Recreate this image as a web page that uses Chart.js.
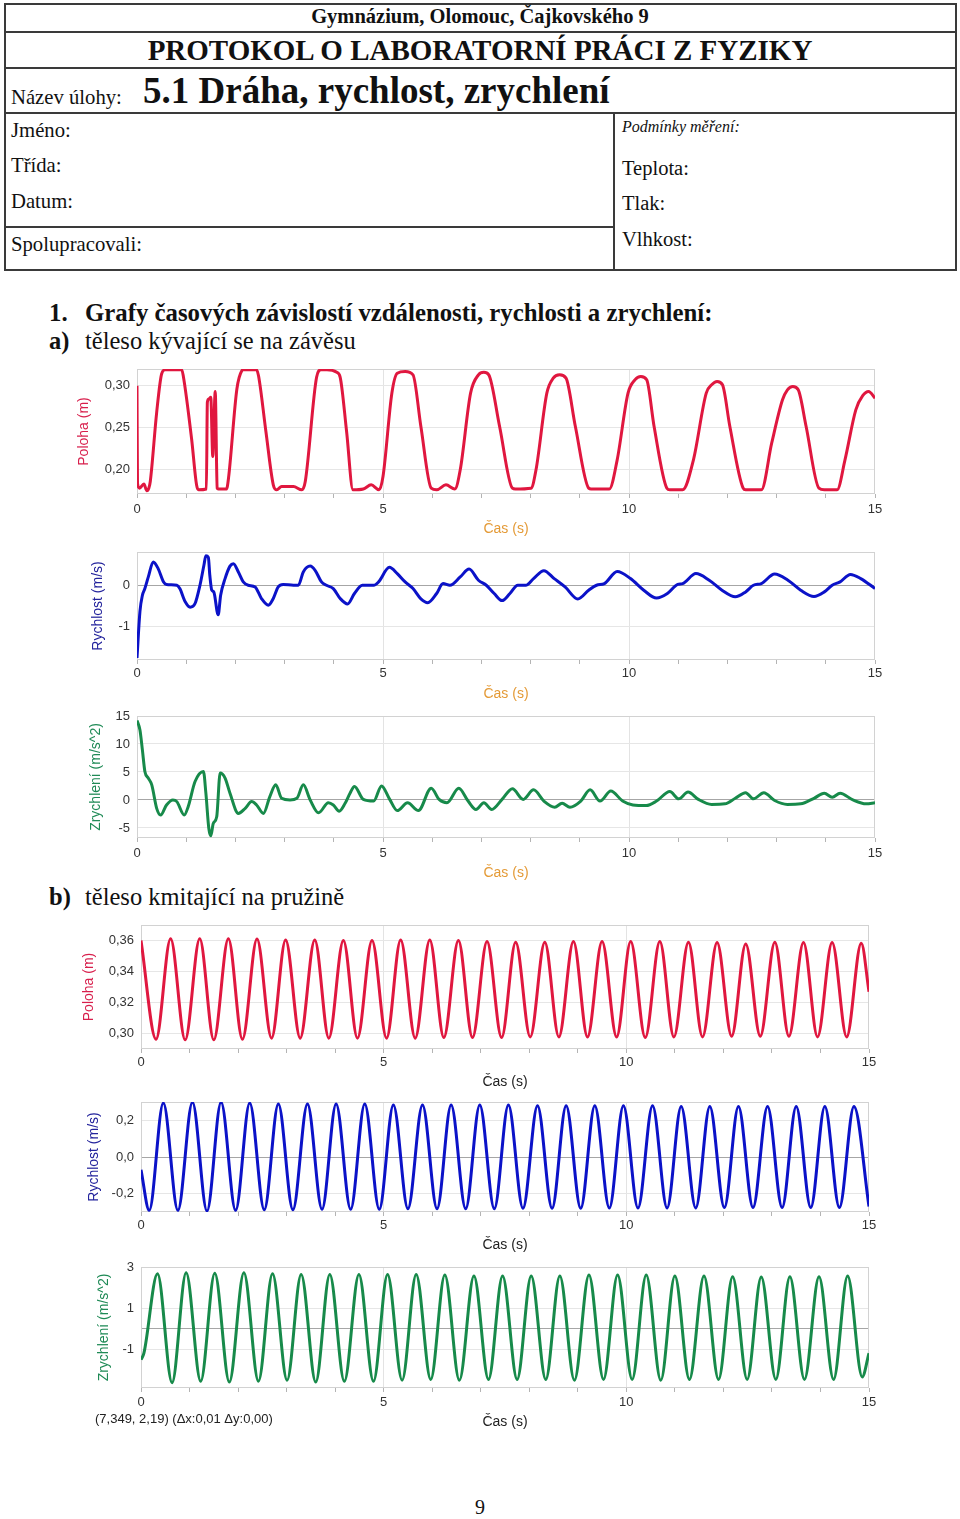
<!DOCTYPE html>
<html lang="cs">
<head>
<meta charset="utf-8">
<title>Protokol – 5.1 Dráha, rychlost, zrychlení</title>
<script src="https://cdn.jsdelivr.net/npm/chart.js@4.4.1/dist/chart.umd.min.js"></script>
<style>
  html, body { margin: 0; padding: 0; background: #fff; }
  #page { position: relative; width: 960px; height: 1519px; overflow: hidden; }
  .t { position: absolute; white-space: nowrap; line-height: 1; color: #111;
       font-family: 'Liberation Serif', 'Times New Roman', serif; }
  .b { font-weight: bold; }
  .c { text-align: center; }
  .ln { position: absolute; background: #3a3a3a; }
  canvas { position: absolute; }
</style>
</head>
<body>
<div id="page">
  <!-- hlavicka protokolu -->
  <div class="ln" style="left:4px;top:3px;width:952px;height:2px"></div>
  <div class="ln" style="left:4px;top:31px;width:952px;height:2px"></div>
  <div class="ln" style="left:4px;top:67px;width:952px;height:2px"></div>
  <div class="ln" style="left:4px;top:112px;width:952px;height:2px"></div>
  <div class="ln" style="left:4px;top:269px;width:952px;height:2px"></div>
  <div class="ln" style="left:4px;top:3px;width:2px;height:268px"></div>
  <div class="ln" style="left:955px;top:3px;width:2px;height:268px"></div>
  <div class="ln" style="left:613px;top:112px;width:2px;height:158px"></div>
  <div class="ln" style="left:4px;top:226px;width:610px;height:2px"></div>

  <div class="t b c" style="left:4px;width:952px;top:6px;font-size:20.5px">Gymnázium, Olomouc, Čajkovského 9</div>
  <div class="t b c" style="left:4px;width:952px;top:36px;font-size:29px">PROTOKOL O LABORATORNÍ PRÁCI Z FYZIKY</div>
  <div class="t" style="left:11px;top:87px;font-size:20.7px">Název úlohy:</div>
  <div class="t b" style="left:143px;top:72px;font-size:37px">5.1 Dráha, rychlost, zrychlení</div>
  <div class="t" style="left:11px;top:120px;font-size:20.7px">Jméno:</div>
  <div class="t" style="left:11px;top:155px;font-size:20.7px">Třída:</div>
  <div class="t" style="left:11px;top:191px;font-size:20.7px">Datum:</div>
  <div class="t" style="left:11px;top:234px;font-size:20.7px">Spolupracovali:</div>
  <div class="t" style="left:622px;top:119px;font-size:16px;font-style:italic">Podmínky měření:</div>
  <div class="t" style="left:622px;top:158px;font-size:20.5px">Teplota:</div>
  <div class="t" style="left:622px;top:193px;font-size:20.5px">Tlak:</div>
  <div class="t" style="left:622px;top:229px;font-size:20.5px">Vlhkost:</div>

  <div class="t b" style="left:49px;top:301px;font-size:24.8px">1.</div>
  <div class="t b" style="left:85px;top:301px;font-size:24.8px">Grafy časových závislostí vzdálenosti, rychlosti a zrychlení:</div>
  <div class="t b" style="left:49px;top:329px;font-size:24.5px">a)</div>
  <div class="t" style="left:85px;top:329px;font-size:24.5px">těleso kývající se na závěsu</div>
  <div class="t b" style="left:49px;top:885px;font-size:24.5px">b)</div>
  <div class="t" style="left:85px;top:885px;font-size:24.5px">těleso kmitající na pružině</div>

  <canvas id="c1"></canvas>
  <canvas id="c2"></canvas>
  <canvas id="c3"></canvas>
  <canvas id="c4"></canvas>
  <canvas id="c5"></canvas>
  <canvas id="c6"></canvas>

  <div class="t" style="left:95px;top:1412px;font-size:13px;color:#222;font-family:'Liberation Sans',Arial,sans-serif">(7,349, 2,19) (Δx:0,01 Δy:0,00)</div>
  <div class="t c" style="left:440px;width:80px;top:1497px;font-size:20px">9</div>
</div>

<script>
// osa x - cas (s)
const xTicks = [0, 1, 2, 3, 4, 5, 6, 7, 8, 9, 10, 11, 12, 13, 14, 15];
const xMajor = [0, 5, 10, 15];

// a) kyvadlo - poloha (m)
const pendPosT = [0, 0.01, 0.05, 0.14, 0.20, 0.24, 0.27, 0.40, 0.50, 0.57,
  0.91, 0.94, 1.11, 1.21, 1.25, 1.41, 1.43, 1.46, 1.50, 1.54,
  1.59, 1.63, 1.65, 1.82, 1.86, 2.03, 2.13, 2.16, 2.43, 2.47,
  2.62, 2.77, 2.84, 2.94, 3.18, 3.35, 3.42, 3.65, 3.74, 3.86,
  4.06, 4.13, 4.26, 4.39, 4.60, 4.76, 4.92, 5.00, 5.18, 5.29,
  5.45, 5.61, 5.77, 5.98, 6.09, 6.28, 6.46, 6.57, 6.78, 6.94,
  7.05, 7.15, 7.37, 7.63, 7.69, 8.01, 8.11, 8.33, 8.46, 8.59,
  8.72, 8.91, 9.18, 9.23, 9.60, 9.76, 9.98, 10.12, 10.24, 10.36,
  10.51, 10.77, 10.83, 11.09, 11.31, 11.57, 11.68, 11.79, 11.90, 12.05,
  12.32, 12.37, 12.69, 12.90, 13.12, 13.22, 13.33, 13.44, 13.60, 13.86,
  13.97, 14.23, 14.39, 14.61, 14.75, 14.87, 15.00];
const pendPosY = [0.300, 0.183, 0.177, 0.182, 0.174, 0.177, 0.185, 0.268, 0.314, 0.319,
  0.319, 0.312, 0.236, 0.181, 0.175, 0.176, 0.280, 0.284, 0.286, 0.215,
  0.293, 0.177, 0.176, 0.176, 0.189, 0.296, 0.318, 0.319, 0.319, 0.312,
  0.245, 0.181, 0.175, 0.179, 0.179, 0.175, 0.185, 0.310, 0.319, 0.319,
  0.316, 0.310, 0.245, 0.175, 0.176, 0.181, 0.175, 0.191, 0.291, 0.315,
  0.317, 0.313, 0.251, 0.177, 0.175, 0.181, 0.176, 0.199, 0.291, 0.313,
  0.316, 0.313, 0.251, 0.177, 0.176, 0.177, 0.199, 0.291, 0.309, 0.313,
  0.309, 0.251, 0.177, 0.176, 0.176, 0.211, 0.291, 0.307, 0.311, 0.307,
  0.251, 0.177, 0.175, 0.175, 0.211, 0.291, 0.301, 0.305, 0.301, 0.251,
  0.177, 0.175, 0.175, 0.231, 0.283, 0.295, 0.299, 0.295, 0.251, 0.177,
  0.175, 0.175, 0.211, 0.271, 0.288, 0.293, 0.285];

// a) kyvadlo - rychlost (m/s)
const pendVelT = [0.00, 0.06, 0.11, 0.16, 0.23, 0.33, 0.43, 0.54, 0.60, 0.81,
  0.87, 0.98, 1.08, 1.18, 1.28, 1.36, 1.40, 1.45, 1.48, 1.52,
  1.56, 1.65, 1.70, 1.79, 1.89, 1.96, 2.06, 2.16, 2.26, 2.40,
  2.53, 2.67, 2.77, 2.87, 2.97, 3.18, 3.28, 3.38, 3.52, 3.62,
  3.75, 3.85, 3.99, 4.13, 4.28, 4.42, 4.58, 4.81, 4.91, 5.13,
  5.29, 5.45, 5.61, 5.77, 5.91, 6.09, 6.22, 6.36, 6.57, 6.75,
  6.94, 7.10, 7.26, 7.42, 7.58, 7.74, 7.90, 8.06, 8.27, 8.48,
  8.70, 8.96, 9.18, 9.34, 9.50, 9.76, 10.03, 10.30, 10.56, 10.78,
  10.99, 11.09, 11.36, 11.63, 11.89, 12.16, 12.37, 12.53, 12.69, 12.96,
  13.23, 13.49, 13.76, 13.97, 14.13, 14.29, 14.50, 14.71, 15.00];
const pendVelY = [-1.75, -0.63, -0.24, -0.08, 0.20, 0.56, 0.40, 0.08, 0.02, 0.00,
  -0.08, -0.40, -0.53, -0.44, 0.00, 0.48, 0.71, 0.67, 0.24, -0.12,
  -0.16, -0.71, -0.24, 0.16, 0.46, 0.52, 0.32, 0.08, 0.00, -0.04,
  -0.32, -0.48, -0.32, -0.04, 0.02, 0.00, 0.00, 0.32, 0.46, 0.36,
  0.08, 0.00, -0.08, -0.32, -0.45, -0.20, 0.00, 0.00, 0.08, 0.43,
  0.28, 0.08, -0.08, -0.33, -0.42, -0.20, 0.04, 0.00, 0.20, 0.39,
  0.12, 0.00, -0.20, -0.37, -0.20, 0.00, 0.00, 0.16, 0.35, 0.16,
  -0.04, -0.33, -0.12, 0.00, 0.04, 0.33, 0.16, -0.12, -0.31, -0.20,
  0.02, 0.04, 0.28, 0.12, -0.12, -0.28, -0.16, 0.00, 0.04, 0.27,
  0.12, -0.12, -0.27, -0.16, 0.00, 0.08, 0.26, 0.16, -0.08];

// a) kyvadlo - zrychleni (m/s^2)
const pendAccT = [0.00, 0.06, 0.11, 0.16, 0.23, 0.30, 0.40, 0.48, 0.60, 0.73,
  0.81, 0.96, 1.04, 1.18, 1.35, 1.40, 1.46, 1.50, 1.55, 1.62,
  1.69, 1.79, 1.89, 2.06, 2.20, 2.33, 2.43, 2.57, 2.70, 2.82,
  2.94, 3.11, 3.25, 3.38, 3.52, 3.69, 3.89, 3.99, 4.11, 4.23,
  4.33, 4.42, 4.60, 4.81, 4.97, 5.13, 5.29, 5.50, 5.72, 5.98,
  6.14, 6.30, 6.54, 6.73, 6.89, 7.05, 7.21, 7.42, 7.63, 7.85,
  8.06, 8.27, 8.49, 8.64, 8.80, 9.02, 9.21, 9.41, 9.63, 9.87,
  10.08, 10.35, 10.56, 10.83, 11.01, 11.20, 11.41, 11.68, 11.95, 12.16,
  12.37, 12.53, 12.74, 12.96, 13.22, 13.49, 13.76, 13.97, 14.13, 14.29,
  14.55, 14.82, 15.00];
const pendAccY = [14.2, 12.5, 8.9, 5.1, 3.9, 2.7, -1.5, -2.7, -0.9, 0.0,
  -0.3, -2.7, -1.2, 3.3, 5.1, 1.2, -5.1, -6.4, -4.2, -3.0,
  4.8, 3.9, 1.2, -2.4, -1.5, -0.3, -0.9, -2.4, 0.6, 2.7,
  0.3, 0.0, 0.3, 2.7, 0.0, -2.3, -0.5, -0.9, -2.0, -0.6,
  1.2, 2.4, 0.1, -0.2, 2.5, 0.2, -1.9, -0.5, -1.9, 2.1,
  0.1, -0.5, 2.1, -0.2, -1.7, -0.5, -1.7, 0.1, 2.0, 0.1,
  1.8, -0.2, -1.3, -0.6, -1.3, -0.2, 1.8, -0.2, 1.6, -0.2,
  -0.9, -1.0, -0.2, 1.5, 0.2, 1.4, 0.1, -0.8, -0.7, 0.3,
  1.3, 0.2, 1.3, -0.1, -0.8, -0.7, 0.3, 1.2, 0.5, 1.2,
  0.0, -0.7, -0.5];

// b) pruzina - poloha (m)
const springPosT = [0.00, 0.31, 0.61, 0.91, 1.21, 1.50, 1.80, 2.09, 2.39, 2.69,
  2.98, 3.28, 3.58, 3.87, 4.17, 4.46, 4.76, 5.06, 5.35, 5.65,
  5.95, 6.24, 6.54, 6.83, 7.13, 7.43, 7.72, 8.02, 8.32, 8.61,
  8.91, 9.20, 9.50, 9.80, 10.09, 10.39, 10.69, 10.98, 11.28, 11.57,
  11.87, 12.17, 12.46, 12.76, 13.06, 13.35, 13.65, 13.94, 14.24, 14.54,
  14.84, 15.00];
const springPosY = [0.3600, 0.2963, 0.3611, 0.2959, 0.3611, 0.2959, 0.3611, 0.2963, 0.3609, 0.2970,
  0.3604, 0.2970, 0.3604, 0.2970, 0.3600, 0.2970, 0.3600, 0.2970, 0.3604, 0.2970,
  0.3604, 0.2974, 0.3600, 0.2974, 0.3593, 0.2974, 0.3589, 0.2978, 0.3589, 0.2978,
  0.3593, 0.2978, 0.3593, 0.2978, 0.3593, 0.2974, 0.3593, 0.2978, 0.3589, 0.2978,
  0.3587, 0.2983, 0.3578, 0.2983, 0.3589, 0.2983, 0.3587, 0.2978, 0.3587, 0.2978,
  0.3583, 0.3270];

// b) pruzina - rychlost (m/s)
const springVelT = [0.00, 0.17, 0.46, 0.76, 1.06, 1.36, 1.65, 1.95, 2.24, 2.54,
  2.83, 3.13, 3.43, 3.73, 4.02, 4.32, 4.61, 4.91, 5.20, 5.50,
  5.80, 6.10, 6.39, 6.69, 6.98, 7.28, 7.57, 7.87, 8.17, 8.47,
  8.76, 9.06, 9.35, 9.65, 9.94, 10.24, 10.54, 10.84, 11.13, 11.43,
  11.72, 12.02, 12.31, 12.61, 12.91, 13.21, 13.50, 13.80, 14.09, 14.39,
  14.69, 15.00];
const springVelY = [-0.070, -0.291, 0.295, -0.291, 0.299, -0.295, 0.299, -0.291, 0.295, -0.288,
  0.289, -0.288, 0.289, -0.285, 0.289, -0.285, 0.289, -0.285, 0.284, -0.282,
  0.284, -0.282, 0.284, -0.282, 0.284, -0.282, 0.284, -0.280, 0.280, -0.280,
  0.280, -0.280, 0.280, -0.278, 0.280, -0.278, 0.280, -0.278, 0.276, -0.278,
  0.276, -0.276, 0.276, -0.276, 0.276, -0.276, 0.276, -0.276, 0.276, -0.276,
  0.276, -0.270];

// b) pruzina - zrychleni (m/s^2)
const springAccT = [0.00, 0.06, 0.34, 0.64, 0.93, 1.23, 1.52, 1.82, 2.12, 2.42,
  2.71, 3.01, 3.30, 3.60, 3.89, 4.19, 4.49, 4.79, 5.08, 5.38,
  5.67, 5.97, 6.26, 6.56, 6.86, 7.16, 7.45, 7.75, 8.04, 8.34,
  8.63, 8.93, 9.23, 9.53, 9.82, 10.12, 10.41, 10.71, 11.00, 11.30,
  11.60, 11.90, 12.19, 12.49, 12.78, 13.08, 13.37, 13.67, 13.97, 14.27,
  14.56, 14.86, 15.00];
const springAccY = [-1.52, -1.20, 2.67, -2.64, 2.72, -2.57, 2.69, -2.61, 2.72, -2.57,
  2.67, -2.52, 2.64, -2.61, 2.64, -2.57, 2.64, -2.57, 2.64, -2.52,
  2.64, -2.48, 2.61, -2.52, 2.56, -2.48, 2.56, -2.48, 2.56, -2.48,
  2.56, -2.52, 2.61, -2.48, 2.61, -2.48, 2.61, -2.52, 2.56, -2.48,
  2.56, -2.48, 2.52, -2.48, 2.51, -2.48, 2.52, -2.48, 2.52, -2.48,
  2.56, -2.36, -1.20];

// popisky osy y
const yTicks1 = [0.20, 0.25, 0.30],  yLabels1 = ['0,20', '0,25', '0,30'];
const yTicks2 = [-1, 0],             yLabels2 = ['-1', '0'];
const yTicks3 = [-5, 0, 5, 10, 15],  yLabels3 = ['-5', '0', '5', '10', '15'];
const yTicks4 = [0.30, 0.32, 0.34, 0.36], yLabels4 = ['0,30', '0,32', '0,34', '0,36'];
const yTicks5 = [-0.2, 0, 0.2],      yLabels5 = ['-0,2', '0,0', '0,2'];
const yTicks6 = [-1, 0, 1, 3],       yLabels6 = ['-1', '', '1', '3'];

const SANS = "'Liberation Sans', Arial, sans-serif";
const RED = '#e0173f', BLUE = '#0b12c8', GREEN = '#178a4a';
const ORANGE = '#e49a36';

// ramecek kolem plochy grafu
const frame = {
  id: 'frame',
  beforeDatasetsDraw(chart) {
    const a = chart.chartArea, c = chart.ctx;
    c.save();
    c.strokeStyle = '#d2d2d2';
    c.lineWidth = 1;
    c.strokeRect(Math.round(a.left) + 0.5, Math.round(a.top) + 0.5,
                 Math.round(a.width) - 1, Math.round(a.height) - 1);
    c.restore();
  }
};

function makeChart(id, t, v, o) {
  const [pl, pt, pr, pb] = o.plot;
  const left = 60, top = pt - 10, right = pr + 20, bottom = o.titleY + 12;
  const cv = document.getElementById(id);
  cv.width = right - left;
  cv.height = bottom - top;
  cv.style.left = left + 'px';
  cv.style.top = top + 'px';

  new Chart(cv, {
    type: 'line',
    data: {
      datasets: [{
        data: t.map((x, i) => ({ x: x, y: v[i] })),
        borderColor: o.color,
        borderWidth: 3,
        pointRadius: 0,
        fill: false,
        cubicInterpolationMode: 'monotone'
      }]
    },
    options: {
      responsive: false,
      animation: false,
      events: [],
      layout: { padding: { top: 10, right: 20, left: 0, bottom: 0 } },
      plugins: { legend: { display: false }, tooltip: { enabled: false } },
      scales: {
        x: {
          type: 'linear', min: 0, max: 15,
          afterBuildTicks: s => { s.ticks = xTicks.map(x => ({ value: x })); },
          afterFit: s => { s.height = bottom - pb; s.paddingLeft = 0; s.paddingRight = 0; },
          border: { display: false },
          grid: {
            color: c => (c.tick && (c.tick.value === 5 || c.tick.value === 10)) ? '#e3e3e3' : 'rgba(0,0,0,0)',
            tickColor: '#b4b4b4',
            tickLength: 4
          },
          ticks: {
            autoSkip: false, maxRotation: 0, padding: o.xPad,
            color: '#333', font: { family: SANS, size: 13 },
            callback: x => xMajor.includes(x) ? String(x) : ''
          },
          title: {
            display: true, text: 'Čas (s)', color: o.xTitleColor,
            font: { family: SANS, size: 14 }, padding: { top: 0, bottom: 2 }
          }
        },
        y: {
          type: 'linear', min: o.yMin, max: o.yMax,
          afterBuildTicks: s => { s.ticks = o.yTicks.map(y => ({ value: y })); },
          afterFit: s => { s.width = pl - left; s.paddingTop = 0; s.paddingBottom = 0; },
          border: { display: false },
          grid: {
            drawTicks: false,
            color: c => (c.tick && c.tick.value === 0) ? '#a6a6a6' : '#e6e6e6'
          },
          ticks: {
            padding: 7, color: '#333', font: { family: SANS, size: 13 },
            callback: (y, i) => o.yLabels[i]
          },
          title: {
            display: true, text: o.yTitle, color: o.yTitleColor,
            font: { family: SANS, size: 14 },
            padding: { top: o.yTitleX - left - 8.4, bottom: 0 }
          }
        }
      }
    },
    plugins: [frame]
  });
}

makeChart('c1', pendPosT, pendPosY, {
  plot: [137, 369, 875, 494], yMin: 0.17, yMax: 0.32, yTicks: yTicks1, yLabels: yLabels1,
  color: RED, yTitle: 'Poloha (m)', yTitleColor: '#d81f4c', yTitleX: 84,
  titleY: 528, xPad: 3.2, xTitleColor: ORANGE
});
makeChart('c2', pendVelT, pendVelY, {
  plot: [137, 552, 875, 660], yMin: -1.8, yMax: 0.8, yTicks: yTicks2, yLabels: yLabels2,
  color: BLUE, yTitle: 'Rychlost (m/s)', yTitleColor: '#23239c', yTitleX: 98,
  titleY: 693, xPad: 1.2, xTitleColor: ORANGE
});
makeChart('c3', pendAccT, pendAccY, {
  plot: [137, 716, 875, 838], yMin: -6.8, yMax: 15, yTicks: yTicks3, yLabels: yLabels3,
  color: GREEN, yTitle: 'Zrychlení (m/s^2)', yTitleColor: '#1f8a56', yTitleX: 96,
  titleY: 872, xPad: 3.2, xTitleColor: ORANGE
});
makeChart('c4', springPosT, springPosY, {
  plot: [141, 925, 869, 1049], yMin: 0.29, yMax: 0.37, yTicks: yTicks4, yLabels: yLabels4,
  color: RED, yTitle: 'Poloha (m)', yTitleColor: '#d81f4c', yTitleX: 89,
  titleY: 1081, xPad: 1.2, xTitleColor: '#222'
});
makeChart('c5', springVelT, springVelY, {
  plot: [141, 1102, 869, 1212], yMin: -0.3, yMax: 0.3, yTicks: yTicks5, yLabels: yLabels5,
  color: BLUE, yTitle: 'Rychlost (m/s)', yTitleColor: '#23239c', yTitleX: 94,
  titleY: 1244, xPad: 1.2, xTitleColor: '#222'
});
makeChart('c6', springAccT, springAccY, {
  plot: [141, 1267, 869, 1388], yMin: -2.9, yMax: 3, yTicks: yTicks6, yLabels: yLabels6,
  color: GREEN, yTitle: 'Zrychlení (m/s^2)', yTitleColor: '#1f8a56', yTitleX: 104,
  titleY: 1421, xPad: 2.2, xTitleColor: '#222'
});
</script>
</body>
</html>
